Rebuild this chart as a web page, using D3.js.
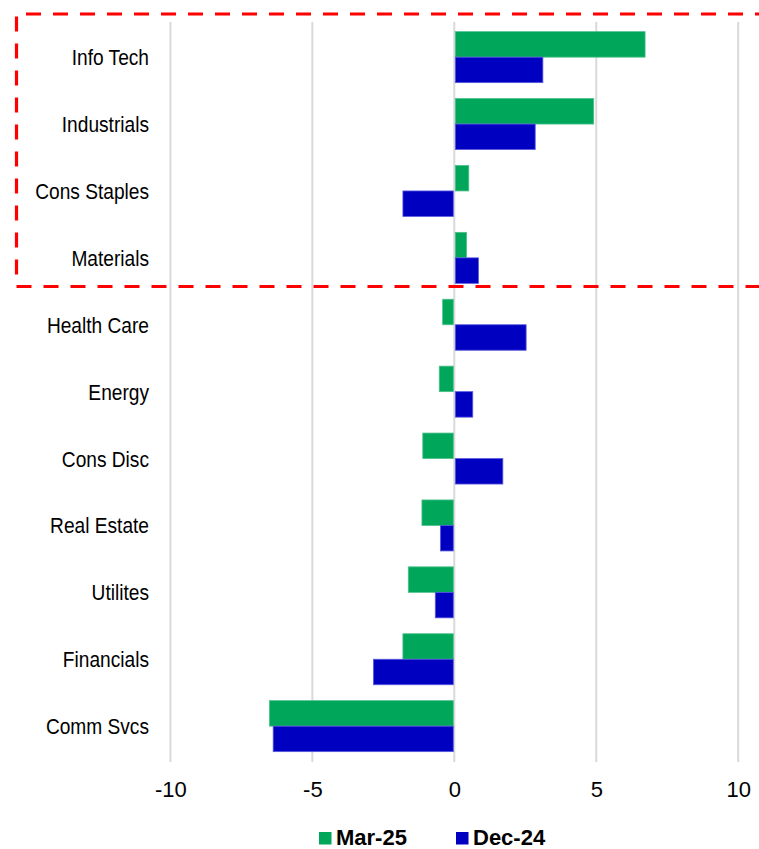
<!DOCTYPE html>
<html>
<head>
<meta charset="utf-8">
<script src="https://cdn.jsdelivr.net/npm/d3@7/dist/d3.min.js"></script>
<style>
  html, body { margin: 0; padding: 0; background: #fff; }
  svg { display: block; }
  text { font-family: "Liberation Sans", Arial, sans-serif; fill: #000; }
</style>
</head>
<body>
<svg id="chart" width="759" height="849"></svg>
<script>
const categories = ["Info Tech", "Industrials", "Cons Staples", "Materials", "Health Care", "Energy", "Cons Disc", "Real Estate", "Utilites", "Financials", "Comm Svcs"];
const seriesNames = ["Mar-25", "Dec-24"];
const mar25 = [6.72, 4.91, 0.51, 0.43, -0.41, -0.53, -1.11, -1.14, -1.62, -1.81, -6.51];
const dec24 = [3.12, 2.85, -1.81, 0.85, 2.53, 0.65, 1.71, -0.49, -0.67, -2.85, -6.38];
const tickValues = [-10, -5, 0, 5, 10];
const colors = ["#00A65A", "#0000C0"];
const strokeColors = ["#4cc08a", "#5a5ae0"];

const svg = d3.select("#chart");

const x = d3.scaleLinear().domain([-10, 10]).range([170.4, 738.2]);
const y = d3.scaleBand().domain(categories).range([23.7, 759.6]).padding(0);
const barH = 25.5;

// gridlines
svg.append("g").selectAll("line").data(tickValues).join("line")
  .attr("x1", d => x(d)).attr("x2", d => x(d))
  .attr("y1", 22).attr("y2", 762)
  .attr("stroke", "#d9d9d9").attr("stroke-width", 2);

// bars
const series = [mar25, dec24];
series.forEach((vals, si) => {
  svg.append("g").selectAll("rect").data(vals).join("rect")
    .attr("x", d => d >= 0 ? x(0) + 1 : x(d))
    .attr("width", d => Math.max(0, Math.abs(x(d) - x(0)) - 1))
    .attr("y", (d, i) => y(categories[i]) + y.bandwidth() / 2 - barH + si * barH)
    .attr("height", barH)
    .attr("fill", colors[si])
    .attr("stroke", strokeColors[si])
    .attr("stroke-width", 0.8);
});

// category labels
svg.append("g").selectAll("text").data(categories).join("text")
  .attr("transform", d => `translate(149,${y(d) + y.bandwidth() / 2 + 8}) scale(0.87,1)`)
  .attr("text-anchor", "end")
  .attr("font-size", 22)
  .text(d => d);

// x axis tick labels
const xAxis = d3.axisBottom(x).tickValues(tickValues).tickSize(0).tickPadding(0).tickFormat(d => String(d));
const gx = svg.append("g").attr("transform", "translate(0,781)").call(xAxis);
gx.select(".domain").remove();
gx.selectAll("text")
  .attr("font-size", 22)
  .attr("font-family", "Liberation Sans, Arial, sans-serif")
  .attr("fill", "#000")
  .attr("dy", "0.71em");

// legend
const legendX = [319, 456];
const lg = svg.append("g");
seriesNames.forEach((name, i) => {
  lg.append("rect").attr("x", legendX[i]).attr("y", 832).attr("width", 12.5).attr("height", 12.5).attr("fill", colors[i]);
  lg.append("text").attr("x", legendX[i] + 17).attr("y", 845)
    .attr("font-size", 22).attr("font-weight", "bold").text(name);
});

// red dashed highlight box
svg.append("path")
  .attr("d", `M 770 14 L 16.5 14 L 16.5 286.5 L 770 286.5`)
  .attr("fill", "none")
  .attr("stroke", "#FF0000")
  .attr("stroke-width", 3.2)
  .attr("stroke-dasharray", "15,12");
</script>
</body>
</html>
